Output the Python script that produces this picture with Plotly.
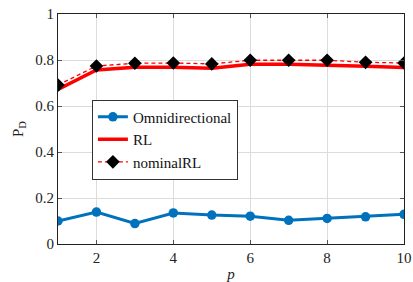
import plotly.graph_objects as go

p = [1, 2, 3, 4, 5, 6, 7, 8, 9, 10]
omni = [0.100, 0.139, 0.089, 0.135, 0.126, 0.121, 0.103, 0.111, 0.118, 0.129]
rl = [0.672, 0.757, 0.768, 0.768, 0.764, 0.782, 0.782, 0.779, 0.773, 0.767]
nominal_rl = [0.691, 0.774, 0.786, 0.787, 0.783, 0.799, 0.799, 0.799, 0.790, 0.787]

x_ticks = [2, 4, 6, 8, 10]
y_ticks = [0, 0.2, 0.4, 0.6, 0.8, 1]
y_tick_labels = ["0", "0.2", "0.4", "0.6", "0.8", "1"]

font_family = "Liberation Serif"

fig = go.Figure()
fig.add_trace(go.Scatter(x=p, y=omni, name="Omnidirectional", mode="lines+markers",
                         line=dict(color="#0072BD", width=3),
                         marker=dict(color="#0072BD", size=9.5, symbol="circle")))
fig.add_trace(go.Scatter(x=p, y=rl, name="RL", mode="lines",
                         line=dict(color="#FF0000", width=3.5)))
fig.add_trace(go.Scatter(x=p, y=nominal_rl, name="nominalRL", mode="lines+markers",
                         line=dict(color="#FF0000", width=1.3, dash="4px,3px"),
                         marker=dict(color="black", size=10.5, symbol="diamond")))

axis_common = dict(showline=True, linecolor="#222", linewidth=1, mirror="ticks",
                   ticks="inside", ticklen=4, tickcolor="#555",
                   showgrid=True, gridcolor="#dcdcdc", gridwidth=1, zeroline=False,
                   automargin=False,
                   tickfont=dict(family=font_family, size=15, color="#222"))

fig.update_layout(
    width=413, height=282,
    margin=dict(l=58, r=9, t=14, b=38),
    paper_bgcolor="white", plot_bgcolor="white",
    font=dict(family=font_family, size=15, color="#222"),
    xaxis=dict(range=[1, 10], tickvals=x_ticks,
               title=dict(text="<i>p</i>", standoff=4, font=dict(family=font_family, size=15)),
               **axis_common),
    yaxis=dict(range=[0, 1], tickvals=y_ticks, ticktext=y_tick_labels,
               title=dict(text="P<sub>D</sub>", standoff=8, font=dict(family=font_family, size=15)),
               **axis_common),
    legend=dict(x=0.098, y=0.628, xanchor="left", yanchor="top",
                bgcolor="white", bordercolor="#333", borderwidth=1,
                font=dict(family=font_family, size=15, color="#111"),
                tracegroupgap=0, itemwidth=30),
    showlegend=True,
)

fig.write_html("out.html", config={"displayModeBar": False},
               post_script="document.body.style.margin='0';")
